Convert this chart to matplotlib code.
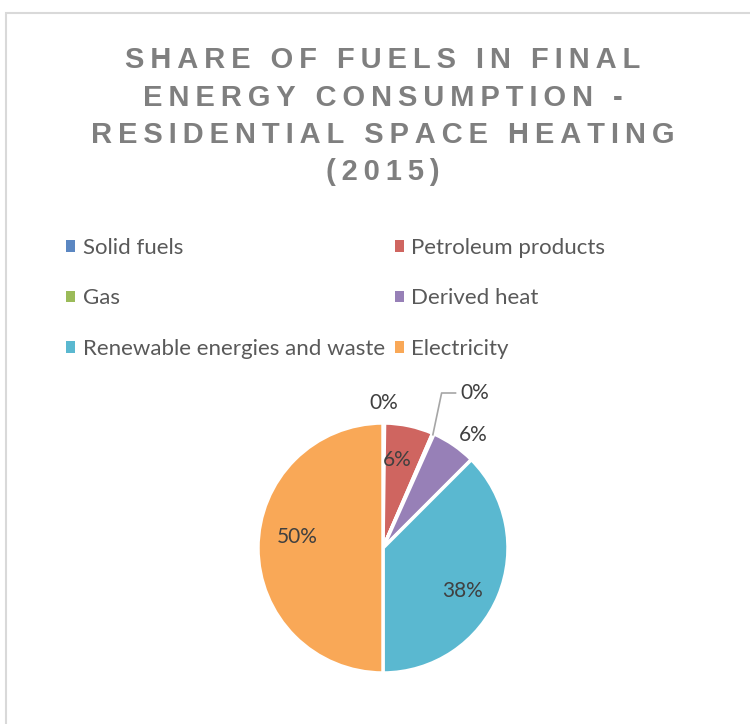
import numpy as np
import matplotlib.pyplot as plt
from matplotlib.patches import Rectangle, Patch

# data
fuels = ['Solid fuels', 'Petroleum products', 'Gas', 'Derived heat',
         'Renewable energies and waste', 'Electricity']
shares = [0.2, 6.3, 0.2, 5.8, 37.5, 50.0]
share_labels = ['0%', '6%', '0%', '6%', '38%', '50%']
title_lines = ['SHARE OF FUELS IN FINAL', 'ENERGY CONSUMPTION -',
               'RESIDENTIAL SPACE HEATING', '(2015)']

colors = ['#5b87c2', '#cf6560', '#9bbb59', '#9780b7', '#5ab8d0', '#f9a857']
label_dist = [1.16, 0.71, 1.28, 1.16, 0.72, 0.69]
label_shift = [0, -3, 0, 4, 6, 7]   # degrees, like excel best fit

fig = plt.figure(figsize=(7.5, 7.24), dpi=100)
fig.patches.append(Rectangle((6 / 750, -0.1), 1.1, (724 - 13) / 724 + 0.1,
                             transform=fig.transFigure, fill=False,
                             edgecolor='#d9d9d9', linewidth=1.5))

# title, letter spaced
thin = '\u2009'
for i, line in enumerate(title_lines):
    spaced = thin.join(line)
    fig.text(383 / 750, 1 - (60 + i * 37.5) / 724, spaced, ha='center', va='center',
             fontsize=21, fontweight='bold', color='#7f7f7f',
             family=['Liberation Sans', 'DejaVu Sans'])

# legend, excel fills rows first
order = [0, 2, 4, 1, 3, 5]
handles = [Patch(facecolor=colors[k], edgecolor='none') for k in order]
leg = fig.legend(handles, [fuels[k] for k in order], ncol=2, loc='upper left',
                 bbox_to_anchor=(46 / 750, 1 - 218 / 724), frameon=False,
                 prop={'family': 'Lato', 'size': 16}, labelcolor='#595959',
                 handlelength=0.4, handleheight=0.4, handletextpad=0.35,
                 columnspacing=0.45, labelspacing=1.37)

ax = fig.add_axes([233 / 750, 26 / 724, 300 / 750, 300 / 724])
wedges, _ = ax.pie(shares, colors=colors, startangle=90, counterclock=False,
                   wedgeprops={'edgecolor': 'white', 'linewidth': 2.5})
ax.set_xlim(-1.2, 1.2)
ax.set_ylim(-1.2, 1.2)
ax.set_aspect('equal')
ax.axis('off')

for i, w in enumerate(wedges):
    ang = np.deg2rad((w.theta1 + w.theta2) / 2 - label_shift[i])
    r = label_dist[i]
    x, y = r * np.cos(ang), r * np.sin(ang)
    if fuels[i] == 'Gas':
        # leader line for the small slice
        ex, ey = np.cos(ang) * 0.99, np.sin(ang) * 0.99
        tx, ty = 0.62, 1.24
        ax.plot([ex, ex + 0.07, tx - 0.04], [ey, ty, ty], color='#a6a6a6',
                lw=1.2, clip_on=False)
        ax.text(tx, ty, share_labels[i], ha='left', va='center', fontsize=15,
                family='Lato', color='#404040')
        continue
    ax.text(x, y, share_labels[i], ha='center', va='center', fontsize=15,
            family='Lato', color='#404040')

fig.savefig('out.png', dpi=100)
